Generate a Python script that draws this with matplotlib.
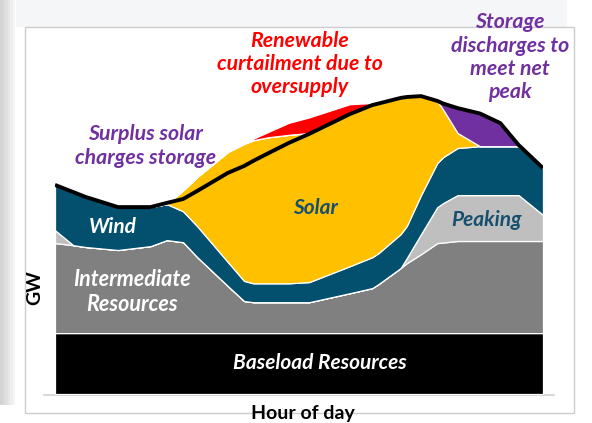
import numpy as np
import matplotlib
matplotlib.use("Agg")
import matplotlib.pyplot as plt
from matplotlib.patches import Rectangle

# hour of day grid (stack breakpoints)
hours = [0, 0.9, 1.5, 3.1, 4.7, 5.5, 6.3, 7.0, 8.5, 9.3, 9.75, 10.5, 11.5, 12.5,
         14.5, 15.6, 15.9, 17.0, 17.3, 18.0, 18.8, 19.1, 19.8, 20.9, 21.9, 22.8, 24]

# layer thickness in GW (schematic)
baseload = [20.3] * len(hours)
intermediate = [30, 29.3, 28.7, 27.7, 29, 31, 30.3, 25.3, 15.7, 10.7, 10.3, 10.3, 10.3, 10.3,
                13.3, 15, 16.3, 21.7, 23.3, 26.3, 30, 30.2, 30.7, 30.7, 30.7, 30.7, 30.7]
peaking = [4.3, 0, 0, 0, 0, 0, 0, 0, 0, 0, 0, 0, 0, 0,
           0, 0, 0, 0, 1.7, 6.7, 12, 13.2, 15.3, 15.3, 15.3, 15.3, 8.7]
wind = [15, 17.7, 16.7, 14.3, 13, 12, 10.3, 10.3, 8, 6.7, 6.3, 6.3, 6.3, 6.7,
        9, 10.3, 10.3, 11.3, 10.7, 13, 14.7, 15.3, 15.7, 16.3, 16.3, 16.3, 15.7]
solar = [0, 0, 0, 0, 0, 0, 7, 16.5, 36.7, 45.7, 47.7, 48.7, 49.5, 49.7,
         50.7, 50.7, 49.8, 45.3, 43, 33, 20.7, 15.7, 5, 0, 0, 0, 0]
storage = [0, 0, 0, 0, 0, 0, 0, 0, 0, 0, 0, 0, 0, 0,
           0, 0, 0, 0, 0, 0, 0, 2.2, 8.3, 10.8, 7.7, 0, 0]
curtailment = [0, 0, 0, 0, 0, 0, 0, 0, 0, 0, 0.5, 1.8, 4, 5.2,
               3.3, 0.7, 0, 0, 0, 0, 0, 0, 0, 0, 0, 0, 0]

# net load curve
load = [69.7, 67.3, 65.7, 62.3, 62.3, 63.7, 65, 67.7, 73.7, 76, 77.7, 80.3, 83.7, 86.7,
        93.3, 96.3, 96.8, 98.7, 99, 99.3, 97.7, 96.8, 95.3, 93.5, 90.3, 83, 75.3]

colors = ["black", "#808080", "#bfbfbf", "#02506e", "#ffc000", "#7030a0", "#ff0000"]
FONT = ["Lato", "DejaVu Sans"]
PURPLE = "#7030a0"

W, H = 592, 423
fig = plt.figure(figsize=(W / 100, H / 100), dpi=100)
fig.patch.set_facecolor("white")

# page decoration behind the chart
bg = fig.add_axes([0, 0, 1, 1])
bg.set_xlim(0, W)
bg.set_ylim(H, 0)
bg.axis("off")
bg.add_patch(Rectangle((16, 0), 551, 27, color="#f5f6f8", lw=0))
bg.add_patch(Rectangle((25, 27), 549, 386, facecolor="white", edgecolor="#cccccc", lw=1))
for i, c in enumerate(["#d4d4d4", "#dadada", "#e0e0e0", "#e7e7e7", "#eeeeee", "#f5f5f5"]):
    bg.add_patch(Rectangle((i * 2.5, 0), 2.5, 405, color=c, lw=0))
bg.plot([44, 554], [395, 395], color="#d0d0d0", lw=1.2)

ax = fig.add_axes([55 / W, 29 / H, 488 / W, 389 / H])
ax.set_facecolor("none")
ax.stackplot(hours, baseload, intermediate, peaking, wind, solar, storage, curtailment,
             colors=colors, edgecolor="white", linewidth=0.9)
ax.plot(hours, load, color="black", lw=2.8, solid_capstyle="butt", solid_joinstyle="round")
ax.set_xlim(0, 24)
ax.set_ylim(0, 129.67)
ax.axis("off")

kw = dict(family=FONT, weight="bold", style="italic", ha="center", va="center",
          clip_on=False)
ax.text(12.05, 110, "Renewable\ncurtailment due to\noversupply", color="#ff0000",
        fontsize=15.3, linespacing=1.2, **kw)
ax.text(4.43, 82.7, "Surplus solar\ncharges storage", color=PURPLE,
        fontsize=15.3, linespacing=1.2, **kw)
ax.text(22.38, 112.3, "Storage\ndischarges to\nmeet net\npeak", color=PURPLE,
        fontsize=15.3, linespacing=1.2, **kw)
ax.text(12.79, 62, "Solar", color="#17506e", fontsize=15, **kw)
ax.text(2.83, 55.7, "Wind", color="white", fontsize=15, **kw)
ax.text(3.81, 34, "Intermediate\nResources", color="white", fontsize=15.5,
        linespacing=1.2, **kw)
ax.text(21.2, 58, "Peaking", color="#17506e", fontsize=15, **kw)
ax.text(13.03, 10.3, "Baseload Resources", color="white", fontsize=15, **kw)

fig.text(35 / W, 1 - 288 / H, "GW", family=FONT, weight="bold", fontsize=14,
         rotation=90, ha="center", va="center")
fig.text(303 / W, 1 - 413 / H, "Hour of day", family=FONT, weight="bold", fontsize=14,
         ha="center", va="center")

fig.savefig("out.png", dpi=100)
